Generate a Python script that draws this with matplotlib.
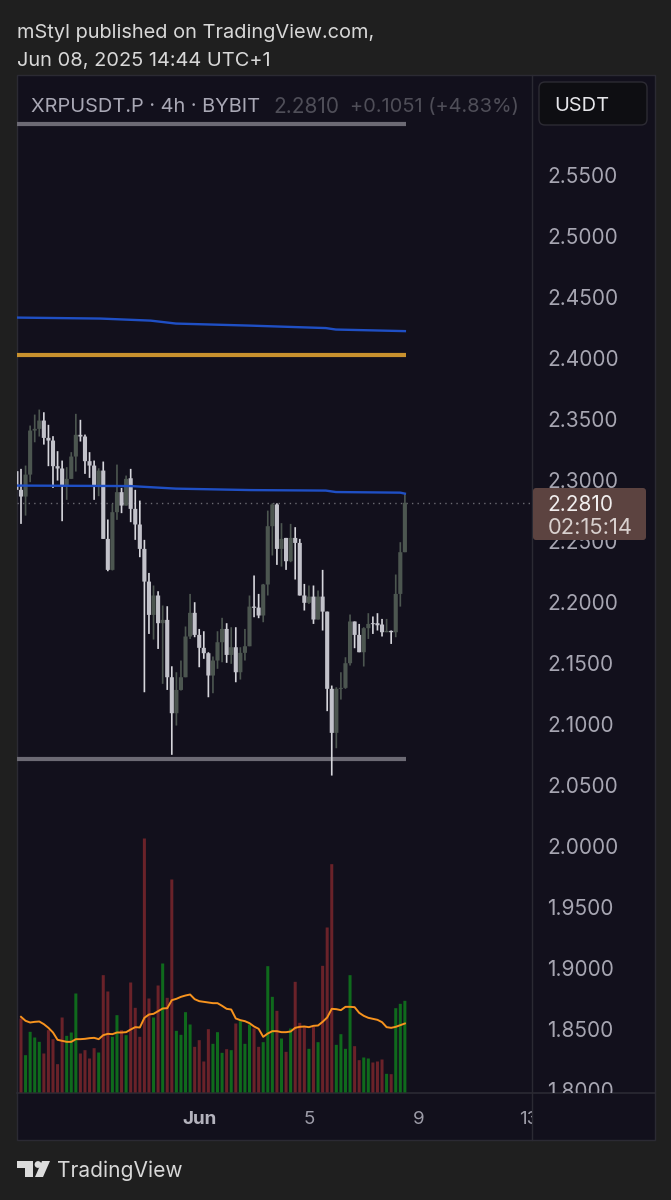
import matplotlib
matplotlib.use("Agg")
import matplotlib.pyplot as plt
from matplotlib.patches import FancyBboxPatch, Polygon, Circle, Rectangle

W, H = 671, 1200
FONT = "Inter"

OUTER_BG = "#1f1f1f"
PANEL_BG = "#12101c"
BORDER = "#2b2a33"
UP_BODY = "#4c5650"
DOWN_BODY = "#c2c2ca"
DOWN_WICK = "#d6d6dc"
VOL_UP = "#0f6a1c"
VOL_DOWN = "#6a2229"

# 4h candles, first one sits half outside the left edge
opens = [2.3069, 2.2916, 2.2861, 2.3041, 2.3402, 2.3416, 2.3484, 2.3342, 2.3320, 2.3110, 2.3091, 2.2951, 2.3006,
         2.3189, 2.3367, 2.3353, 2.3151, 2.3115, 2.2951, 2.3074, 2.2514, 2.2260, 2.2733, 2.2897, 2.2787, 2.3011,
         2.2760, 2.2632, 2.2432, 2.2164, 2.1891, 2.2050, 2.1823, 2.1850, 2.1380, 2.1085, 2.1276, 2.1380, 2.1714,
         2.1908, 2.1727, 2.1621, 2.1577, 2.1394, 2.1517, 2.1667, 2.1776, 2.1563, 2.1626, 2.1421, 2.1580, 2.1634,
         2.1959, 2.1951, 2.1886, 2.2140, 2.2618, 2.2796, 2.2432, 2.2522, 2.2331, 2.2522, 2.2481, 2.2050, 2.1990,
         2.2041, 2.1853, 2.2041, 2.1918, 2.1285, 2.0924, 2.1285, 2.1293, 2.1495, 2.1837, 2.1727, 2.1585, 2.1782,
         2.1823, 2.1823, 2.1812, 2.1749, 2.1760, 2.1749, 2.2063, 2.2405]
highs = [2.3069, 2.3088, 2.3115, 2.3443, 2.3533, 2.3574, 2.3552, 2.3449, 2.3356, 2.3233, 2.3156, 2.3102, 2.3225,
         2.3539, 2.3490, 2.3369, 2.3225, 2.3156, 2.3093, 2.3148, 2.2673, 2.2801, 2.3123, 2.2932, 2.3033, 2.3088,
         2.2916, 2.2828, 2.2506, 2.2235, 2.2132, 2.2085, 2.1968, 2.1962, 2.1470, 2.1421, 2.1517, 2.1796, 2.2063,
         2.1995, 2.1776, 2.1757, 2.1585, 2.1550, 2.1757, 2.1867, 2.1823, 2.1790, 2.1790, 2.1626, 2.1776, 2.2050,
         2.2214, 2.2063, 2.2145, 2.2746, 2.2806, 2.2806, 2.2643, 2.2522, 2.2637, 2.2610, 2.2514, 2.2145, 2.2132,
         2.2132, 2.2091, 2.2260, 2.1918, 2.1312, 2.1298, 2.1421, 2.1544, 2.1894, 2.1837, 2.1817, 2.1790, 2.1905,
         2.1878, 2.1905, 2.1858, 2.1858, 2.1763, 2.2222, 2.2487, 2.2883]
lows = [2.2916, 2.2637, 2.2705, 2.2979, 2.3306, 2.3353, 2.3287, 2.3110, 2.2932, 2.2992, 2.2659, 2.2834, 2.3006,
        2.3066, 2.3312, 2.3047, 2.3014, 2.2834, 2.2864, 2.2514, 2.2249, 2.2255, 2.2670, 2.2725, 2.2787, 2.2651,
        2.2506, 2.2364, 2.1257, 2.1735, 2.1689, 2.1612, 2.1326, 2.1276, 2.0744, 2.0984, 2.1271, 2.1380, 2.1694,
        2.1708, 2.1462, 2.1531, 2.1216, 2.1249, 2.1449, 2.1503, 2.1498, 2.1490, 2.1339, 2.1361, 2.1517, 2.1634,
        2.1872, 2.1864, 2.1831, 2.2050, 2.2378, 2.2301, 2.2287, 2.2260, 2.2323, 2.2181, 2.2050, 2.1927, 2.1981,
        2.1817, 2.1853, 2.1763, 2.1102, 2.0574, 2.0798, 2.1197, 2.1285, 2.1476, 2.1618, 2.1585, 2.1468, 2.1694,
        2.1735, 2.1763, 2.1714, 2.1749, 2.1653, 2.1708, 2.1959, 2.2405]
closes = [2.2916, 2.2861, 2.3041, 2.3402, 2.3416, 2.3484, 2.3342, 2.3320, 2.3110, 2.3091, 2.2951, 2.3006, 2.3189,
          2.3367, 2.3353, 2.3151, 2.3115, 2.2951, 2.3074, 2.2514, 2.2260, 2.2733, 2.2897, 2.2787, 2.3006, 2.2760,
          2.2632, 2.2432, 2.2164, 2.1891, 2.2050, 2.1823, 2.1850, 2.1380, 2.1085, 2.1276, 2.1380, 2.1714, 2.1908,
          2.1727, 2.1621, 2.1577, 2.1394, 2.1517, 2.1667, 2.1776, 2.1563, 2.1626, 2.1421, 2.1580, 2.1634, 2.1959,
          2.1949, 2.1886, 2.2140, 2.2618, 2.2796, 2.2432, 2.2514, 2.2331, 2.2522, 2.2481, 2.2050, 2.1990, 2.2041,
          2.1853, 2.2041, 2.1918, 2.1285, 2.0924, 2.1285, 2.1293, 2.1495, 2.1837, 2.1727, 2.1585, 2.1782, 2.1817,
          2.1815, 2.1806, 2.1749, 2.1760, 2.1749, 2.2063, 2.2405, 2.2810]

# volume and its moving average, arbitrary units; both start at the second candle
volumes = [222, 112, 182, 165, 152, 117, 187, 160, 85, 225, 170, 180, 297, 117, 127, 102, 133, 120, 352, 303, 167,
           232, 187, 172, 330, 254, 167, 762, 282, 225, 321, 387, 284, 639, 185, 173, 241, 204, 137, 157, 93, 190,
           146, 181, 119, 130, 127, 207, 214, 146, 204, 192, 137, 151, 379, 287, 245, 162, 122, 192, 332, 209, 197,
           131, 197, 151, 380, 495, 685, 143, 175, 131, 352, 139, 97, 105, 102, 90, 93, 99, 56, 55, 253, 266, 275]
volume_ma = [227, 215, 210, 212, 213, 205, 194, 180, 158, 155, 152, 152, 160, 160, 161, 163, 164, 160, 172, 176, 175,
             180, 180, 181, 189, 196, 195, 224, 234, 236, 244, 252, 253, 277, 281, 287, 291, 294, 280, 274, 272, 270,
             268, 268, 260, 251, 249, 222, 217, 214, 208, 198, 191, 167, 177, 184, 184, 181, 181, 183, 194, 197, 198,
             196, 200, 201, 212, 225, 251, 250, 247, 257, 257, 256, 239, 230, 224, 221, 218, 211, 196, 194, 197, 202,
             207]

# long moving averages, given as (bar index, price) pairs
ma_upper_x = [-1, 17.4, 28.4, 33.9, 50.3, 66.7, 68.9, 84]
ma_upper_y = [2.4328, 2.4320, 2.4303, 2.4279, 2.4262, 2.4242, 2.4230, 2.4217]
ma_lower_x = [-1, 24, 33.9, 50.3, 66.7, 68.9, 83, 84]
ma_lower_y = [2.2951, 2.2947, 2.2926, 2.2914, 2.2910, 2.2898, 2.2893, 2.2885]

level_top = 2.5914
level_gold = 2.4025
level_bottom = 2.0713
last_price = 2.2810

price_ticks = [2.55, 2.50, 2.45, 2.40, 2.35, 2.30, 2.25, 2.20, 2.15, 2.10, 2.05, 2.00, 1.95, 1.90, 1.85, 1.80]
date_ticks = [39, 63, 87, 111]
date_labels = ["Jun", "5", "9", "13"]


def px_axes(fig, left, top, right, bottom):
    """Adds axes placed by pixel edges, measured from the top left."""
    return fig.add_axes([left / W, 1 - bottom / H, (right - left) / W, (bottom - top) / H])


fig = plt.figure(figsize=(W / 100, H / 100), dpi=100, facecolor=OUTER_BG)

# page furniture in plain pixel coordinates
bg = px_axes(fig, 0, 0, W, H)
bg.set_xlim(0, W)
bg.set_ylim(H, 0)
bg.axis("off")
bg.add_patch(Rectangle((17, 75), 638, 1065, facecolor=PANEL_BG, edgecolor=BORDER, linewidth=1))
bg.plot([532, 532], [75, 1140], color=BORDER, linewidth=1)
bg.plot([17, 655], [1093, 1093], color=BORDER, linewidth=1.2)

price_top = 2.55 + (174.6 - 75) / 1220
price_bottom = 2.55 - (1093 - 174.6) / 1220
x_left = (17 - 21) / 4.57
x_right = (532 - 21) / 4.57

ax = px_axes(fig, 17, 75, 532, 1093)
ax.set_xlim(x_left, x_right)
ax.set_ylim(price_bottom, price_top)
ax.axis("off")

# volume pane shares the x axis, drawn under the candles
vol_ax = ax.twinx()
vol_ax.set_ylim(-1.5, (1093 - 75) * 3 - 1.5)
vol_ax.axis("off")
vol_x = list(range(len(volumes)))
vol_colors = [VOL_UP if closes[i + 1] >= opens[i + 1] else VOL_DOWN for i in vol_x]
vol_bars = vol_ax.bar(vol_x, volumes, width=0.66, color=vol_colors, linewidth=0)
for rect in vol_bars:
    rect.set_snap(False)
vol_ax.plot(vol_x, volume_ma, color="#f7931e", linewidth=1.4, solid_joinstyle="round")

ax.set_zorder(vol_ax.get_zorder() + 1)
ax.patch.set_visible(False)

ax.axhline(last_price, xmax=1, color="#6b6a72", linewidth=1, linestyle=(0, (1, 3)))

# candles
for i, (o, h, l, c) in enumerate(zip(opens, highs, lows, closes)):
    x = i - 1
    up = c >= o
    wick = ax.vlines(x, l, h, color=UP_BODY if up else DOWN_WICK, linewidth=1.2, zorder=3)
    wick.set_snap(False)
    body = ax.bar(x, max(abs(c - o), 0.0004), bottom=min(o, c), width=0.9, color=UP_BODY if up else DOWN_BODY,
                  linewidth=0, zorder=3)
    body[0].set_snap(False)

ax.plot(ma_upper_x, ma_upper_y, color="#1f4fc4", linewidth=1.7, zorder=4)
ax.plot(ma_lower_x, ma_lower_y, color="#1f4fc4", linewidth=1.7, zorder=4)

ax.hlines(level_top, x_left, 84.3, color="#6c6a74", linewidth=3, zorder=4)
ax.hlines(level_gold, x_left, 84.3, color="#c8912e", linewidth=3, zorder=4)
ax.hlines(level_bottom, x_left, 84.3, color="#6c6a74", linewidth=3, zorder=2)

# price scale, labels get clipped at the bottom edge
scale = px_axes(fig, 533, 75, 654, 1093)
scale.set_xlim(533, 654)
scale.set_ylim(price_bottom, price_top)
scale.axis("off")
for tick in price_ticks:
    scale.text(547.5, tick, f"{tick:.4f}", color="#a7a6b2", fontsize=15, family=FONT, va="center_baseline", ha="left",
               clip_on=True)

# date scale
dates = px_axes(fig, 17, 1094, 532, 1140)
dates.set_xlim(x_left, x_right)
dates.set_ylim(1140, 1094)
dates.axis("off")
for pos, label in zip(date_ticks, date_labels):
    dates.text(pos, 1118, label, color="#b4b3bd" if label == "Jun" else "#9d9ca8", fontsize=13.5, family=FONT,
               weight="bold" if label == "Jun" else "normal", ha="center", va="center_baseline", clip_on=True)

# everything on top of the chart
top = px_axes(fig, 0, 0, W, H)
top.set_xlim(0, W)
top.set_ylim(H, 0)
top.axis("off")
top.patch.set_visible(False)

top.add_patch(FancyBboxPatch((533, 488), 113, 52, boxstyle="round,pad=0,rounding_size=3", facecolor="#5c4340",
                             edgecolor="none"))
top.text(547.5, 503, "2.2810", color="#f1eeee", fontsize=15, family=FONT, va="center_baseline")
top.text(547.5, 526, "02:15:14", color="#d8d0ce", fontsize=15.8, family=FONT, va="center_baseline")

top.add_patch(FancyBboxPatch((539, 82), 108, 43, boxstyle="round,pad=0,rounding_size=6", facecolor="#0e0e12",
                             edgecolor="#2c2b33", linewidth=1))
top.text(554, 104, "USDT", color="#e6e6ea", fontsize=14.4, family=FONT, va="center_baseline")

top.text(17, 31, "mStyl published on TradingView.com,", color="#d8d8d8", fontsize=14.4, family=FONT,
         va="center_baseline")
top.text(17, 59, "Jun 08, 2025 14:44 UTC+1", color="#d8d8d8", fontsize=14.4, family=FONT, va="center_baseline")

top.text(31, 105, "XRPUSDT.P · 4h · BYBIT", color="#a9a8b5", fontsize=14.4, family=FONT, va="center_baseline")
top.text(273, 105, "2.2810", color="#4f4e58", fontsize=15, family=FONT, va="center_baseline")
top.text(350, 105, "+0.1051 (+4.83%)", color="#4f4e58", fontsize=14.4, family=FONT, va="center_baseline")

# TradingView mark
logo = "#dcdcdc"
top.add_patch(Polygon([(17, 1161), (33, 1161), (33, 1177), (25, 1177), (25, 1168), (17, 1168)], facecolor=logo,
                      edgecolor="none"))
top.add_patch(Circle((38, 1164.5), 3.4, facecolor=logo, edgecolor="none"))
top.add_patch(Polygon([(42, 1161), (50, 1161), (43, 1177), (35, 1177)], facecolor=logo, edgecolor="none"))
top.text(57, 1169, "TradingView", color="#d8d8d8", fontsize=15.1, family=FONT, va="center_baseline")

fig.savefig("out.png", dpi=100, facecolor=OUTER_BG)
